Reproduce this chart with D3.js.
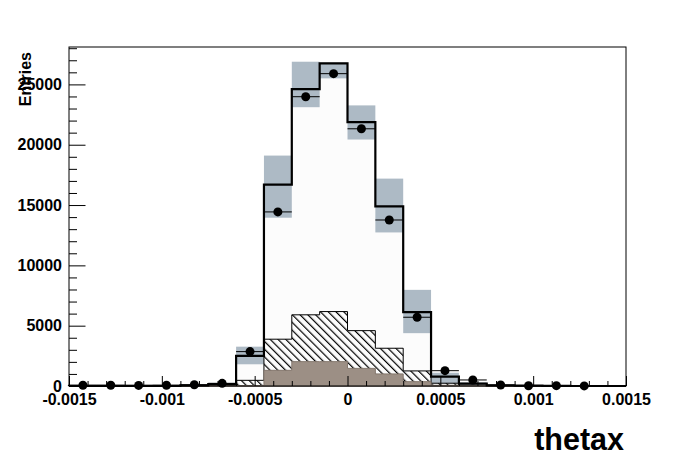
<!DOCTYPE html>
<html>
<head>
<meta charset="utf-8">
<script src="https://cdn.jsdelivr.net/npm/d3@7"></script>
<style>
  html, body { margin: 0; padding: 0; background: #ffffff; }
  svg { display: block; }
  text { font-family: "Liberation Sans", Arial, Helvetica, sans-serif; font-weight: bold; fill: #000; }
</style>
</head>
<body>
<svg id="chart" width="696" height="472"></svg>
<script>
// ---- data ----
const binEdges = [-0.0015,-0.00135,-0.0012,-0.00105,-0.0009,-0.00075,-0.0006,-0.00045,-0.0003,-0.00015,0,
                  0.00015,0.0003,0.00045,0.0006,0.00075,0.0009,0.00105,0.0012,0.00135,0.0015];
const mcTotal  = [10,10,10,15,60,150,2490,16700,24610,26740,21870,14890,6120,770,200,60,30,10,0,0];
const bandLow  = [0,0,0,0,20,60,1800,13950,23110,25500,20430,12730,4380,220,100,20,0,0,0,0];
const bandHigh = [30,30,30,40,110,260,3260,19100,26880,26800,23260,17190,7970,1100,300,100,50,20,0,0];
const hatchedBkg = [0,0,0,0,10,40,470,3880,5900,6170,4590,3130,1250,230,60,20,0,0,0,0];
const brownBkg   = [0,0,0,0,0,10,40,1300,2020,2020,1460,1000,360,60,20,0,0,0,0,0];
const dataPts  = [60,60,50,60,100,220,2850,14430,23980,25890,21320,13760,5700,1270,500,80,20,30,10,null];
const xTickLabels = [-0.0015,-0.001,-0.0005,0,0.0005,0.001,0.0015];
const xMinorTicks = [-0.0014,-0.0013,-0.0012,-0.0011,-0.0009,-0.0008,-0.0007,-0.0006,-0.0004,-0.0003,-0.0002,-0.0001,
                     0.0001,0.0002,0.0003,0.0004,0.0006,0.0007,0.0008,0.0009,0.0011,0.0012,0.0013,0.0014];
const yTickLabels = [0,5000,10000,15000,20000,25000];
const yMinorTicks = [1000,2000,3000,4000,6000,7000,8000,9000,11000,12000,13000,14000,16000,17000,18000,19000,21000,22000,23000,24000,26000,27000,28000];
const xTitle = "thetax";
const yTitle = "Entries";

// ---- layout ----
const L = 69, R = 626, T = 47, B = 386;
const svg = d3.select("#chart");
const x = d3.scaleLinear().domain([-0.0015, 0.0015]).range([L, R]);
const y = d3.scaleLinear().domain([0, 28100]).range([B, T]);

const defs = svg.append("defs");
const pat = defs.append("pattern").attr("id", "hatch").attr("patternUnits", "userSpaceOnUse")
  .attr("width", 5.5).attr("height", 5.5).attr("patternTransform", "rotate(-45)");
pat.append("line").attr("x1", 0.6).attr("y1", 0).attr("x2", 0.6).attr("y2", 5.5)
  .attr("stroke", "#000").attr("stroke-width", 1.2);

const bins = d3.range(mcTotal.length);

function stepPts(vals) {
  const pts = [[binEdges[0], 0]];
  bins.forEach(i => { pts.push([binEdges[i], vals[i]]); pts.push([binEdges[i + 1], vals[i]]); });
  pts.push([binEdges[binEdges.length - 1], 0]);
  return pts;
}
const line = d3.line().x(d => x(d[0])).y(d => y(d[1]));

// faint fill under MC total
svg.append("path").attr("d", line(stepPts(mcTotal)) + "Z").attr("fill", "#fcfcfc").attr("stroke", "none");

// error band
svg.append("g").selectAll("rect").data(bins.filter(i => bandHigh[i] > bandLow[i])).join("rect")
  .attr("x", i => x(binEdges[i])).attr("width", i => x(binEdges[i + 1]) - x(binEdges[i]))
  .attr("y", i => y(bandHigh[i])).attr("height", i => y(bandLow[i]) - y(bandHigh[i]))
  .attr("fill", "#adbac5");

// hatched background
svg.append("path").attr("d", line(stepPts(hatchedBkg)) + "Z")
  .attr("fill", "url(#hatch)").attr("stroke", "#000").attr("stroke-width", 1);
// brown background
svg.append("path").attr("d", line(stepPts(brownBkg)) + "Z")
  .attr("fill", "#9c8f85").attr("stroke", "#85786e").attr("stroke-width", 1);

// MC total
svg.append("path").attr("d", line(stepPts(mcTotal)))
  .attr("fill", "none").attr("stroke", "#000").attr("stroke-width", 2.2);

// frame
svg.append("rect").attr("x", L).attr("y", T).attr("width", R - L).attr("height", B - T)
  .attr("fill", "none").attr("stroke", "#000").attr("stroke-width", 1);

// axes
const gx = svg.append("g").attr("transform", `translate(0,${B})`)
  .call(d3.axisBottom(x).tickValues(xTickLabels).tickSize(-10).tickPadding(7.5).tickFormat(d => String(d)));
const gxm = svg.append("g").attr("transform", `translate(0,${B})`)
  .call(d3.axisBottom(x).tickValues(xMinorTicks).tickSize(-5).tickFormat(""));
const gy = svg.append("g").attr("transform", `translate(${L},0)`)
  .call(d3.axisLeft(y).tickValues(yTickLabels).tickSize(-16.5).tickPadding(7).tickFormat(d => String(d)));
const gym = svg.append("g").attr("transform", `translate(${L},0)`)
  .call(d3.axisLeft(y).tickValues(yMinorTicks).tickSize(-8).tickFormat(""));
[gx, gxm, gy, gym].forEach(g => {
  g.select(".domain").remove();
  g.selectAll("line").attr("stroke", "#000").attr("stroke-width", 1);
  g.selectAll("text").attr("font-size", 16).attr("font-family", "Liberation Sans, Arial, sans-serif")
    .attr("font-weight", "bold").attr("fill", "#000");
});

// data points
const pts = bins.filter(i => dataPts[i] !== null);
const gp = svg.append("g");
gp.selectAll("line").data(pts).join("line")
  .attr("x1", i => x(binEdges[i])).attr("x2", i => x(binEdges[i + 1]))
  .attr("y1", i => y(dataPts[i])).attr("y2", i => y(dataPts[i]))
  .attr("stroke", "#000").attr("stroke-width", 1);
gp.selectAll("circle").data(pts).join("circle")
  .attr("cx", i => x((binEdges[i] + binEdges[i + 1]) / 2)).attr("cy", i => y(dataPts[i]))
  .attr("r", 4.5).attr("fill", "#000");

// titles
svg.append("text").attr("x", 624).attr("y", 450).attr("text-anchor", "end")
  .attr("font-size", 30.5).text(xTitle);
svg.append("text").attr("transform", "translate(31,52) rotate(-90)").attr("text-anchor", "end")
  .attr("font-size", 16).text(yTitle);
</script>
</body>
</html>
